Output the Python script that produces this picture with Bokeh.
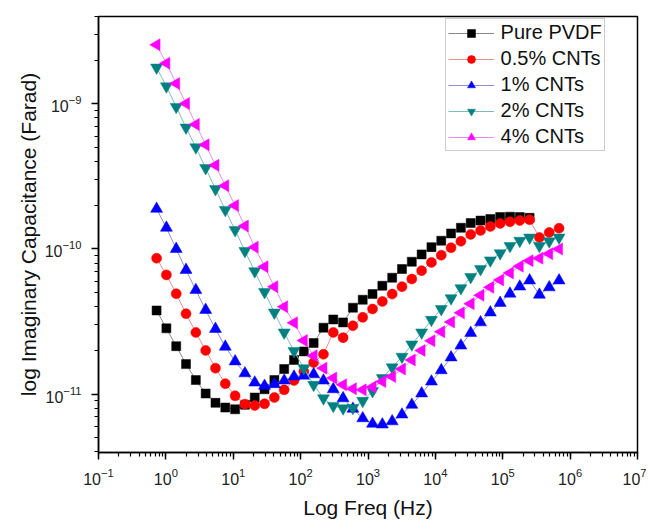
from bokeh.plotting import figure
from bokeh.models import Range1d, LogTicker, Legend, LegendItem
from bokeh.embed import file_html
from bokeh.resources import INLINE

# Frequencies (Hz)
freq_hz = [0.728, 1.018, 1.424, 1.991, 2.785, 3.895, 5.447, 7.618, 10.66, 14.90,
           20.84, 29.15, 40.77, 57.02, 79.76, 111.6, 156.1, 218.3, 305.2, 426.9,
           597.0, 835.0, 1168, 1633, 2285, 3195, 4469, 6251, 8741, 12230,
           17100, 23920, 33450, 46780, 65440, 91530, 128000, 179000, 250300, 350200,
           489800, 685000]

# Imaginary capacitance values in pF
pure_pvdf_pf = [37.7, 28.4, 21.4, 16.1, 12.5, 10.1, 8.71, 8.08, 7.86, 8.44,
                9.47, 10.8, 12.5, 14.9, 17.2, 19.7, 22.5, 28.7, 32.7, 31.2,
                39.4, 44.7, 48.9, 55.8, 63.4, 72.8, 81.7, 91.8, 103, 114,
                128, 140, 151, 157, 161, 166, 167, 166, 164]
cnt05_pf = [86.4, 66.3, 49.2, 35.8, 26.6, 20.0, 15.1, 11.8, 9.73, 8.53,
            8.34, 8.57, 9.47, 10.7, 12.4, 14.3, 16.5, 18.8, 26.6, 24.5,
            29.6, 33.8, 38.6, 43.5, 48.9, 55.0, 62.1, 70.9, 80.8, 90.6,
            102, 113, 126, 134, 143, 150, 154, 157, 159, 120,
            130, 139]
cnt1_pf = [189, 140, 100, 71.7, 52.1, 38.0, 28.1, 21.2, 16.8, 13.9,
           12.0, 11.4, 11.7, 12.4, 13.2, 13.4, 13.7, 12.4, 10.8, 9.36,
           7.92, 6.81, 6.24, 6.17, 6.49, 7.23, 8.44, 10.1, 12.2, 14.6,
           17.9, 21.6, 26.4, 31.2, 36.5, 42.5, 49.2, 55.1, 60.7, 48.4,
           54.4, 60.7]
cnt2_pf = [1780, 1321, 954, 687, 502, 361, 259, 186, 135, 96.9,
           70.3, 50.5, 36.5, 26.6, 19.8, 15.1, 11.6, 9.36, 8.30, 7.98,
           8.04, 8.99, 10.5, 12.9, 15.3, 18.1, 22.0, 26.6, 32.5, 38.6,
           45.8, 53.7, 64.1, 72.8, 83.5, 93.5, 105, 114, 120, 105,
           113, 120]
cnt4_pf = [2553, 1905, 1380, 1005, 722, 522, 377, 273, 199, 144,
           103, 75.5, 55.0, 40.0, 31.0, 23.4, 18.4, 15.1, 12.9, 11.6,
           10.9, 10.7, 11.2, 12.2, 13.2, 14.9, 17.2, 20.0, 23.3, 26.9,
           31.4, 36.3, 42.0, 48.0, 54.4, 61.2, 68.4, 76.1, 83.1, 86.4,
           92.8, 100]

series_labels = ["Pure PVDF", "0.5% CNTs", "1% CNTs", "2% CNTs", "4% CNTs"]
series_values = [pure_pvdf_pf, cnt05_pf, cnt1_pf, cnt2_pf, cnt4_pf]
marker_colors = ["#000000", "#FF0000", "#0000FF", "#008080", "#FF00FF"]
line_colors = ["#8a8a8a", "#eb8f8f", "#8f8fd6", "#80bcbc", "#e88ee8"]
markers = ["square", "circle", "triangle", "inverted_triangle", "triangle"]
angles = [0, 0, 0, 0, 1.5707963267948966]
sizes = [9, 10, 12, 12, 12]

FONT = "Liberation Sans"

p = figure(x_axis_type="log", y_axis_type="log",
           frame_width=539, frame_height=436,
           min_border_left=98, min_border_right=9, min_border_top=16, min_border_bottom=66,
           x_range=Range1d(1e-1, 1e7), y_range=Range1d(3.96e-12, 4.0e-9),
           output_backend="svg", toolbar_location=None)

p.xgrid.visible = False
p.ygrid.visible = False
p.outline_line_color = "#000000"
p.outline_line_width = 1.5
p.background_fill_color = "white"
p.border_fill_color = "white"

p.xaxis.ticker = LogTicker(num_minor_ticks=10, desired_num_ticks=9)
p.yaxis.ticker = LogTicker(num_minor_ticks=10)

for ax in (p.xaxis[0], p.yaxis[0]):
    ax.axis_line_width = 1.5
    ax.axis_line_color = "#000000"
    ax.major_tick_line_width = 1.5
    ax.major_tick_line_color = "#000000"
    ax.minor_tick_line_width = 1.2
    ax.minor_tick_line_color = "#000000"
    ax.major_tick_in = 0
    ax.major_tick_out = 7
    ax.minor_tick_in = 0
    ax.minor_tick_out = 4
    ax.major_label_text_font = FONT
    ax.major_label_text_font_size = "16px"
    ax.major_label_text_color = "#222222"
    ax.axis_label_text_font = FONT
    ax.axis_label_text_font_size = "21px"
    ax.axis_label_text_font_style = "normal"
    ax.axis_label_text_color = "#111111"

p.xaxis.axis_label = "Log Freq (Hz)"
p.yaxis.axis_label = "log Imaginary Capacitance (Farad)"
p.xaxis.major_label_standoff = 8
p.xaxis.axis_label_standoff = 8
p.yaxis.major_label_standoff = 10
p.yaxis.axis_label_standoff = 2

items = []
for lab, vals, mc, lc, mk, ang, sz in zip(series_labels, series_values, marker_colors,
                                         line_colors, markers, angles, sizes):
    xs = freq_hz[:len(vals)]
    ys = [v * 1e-12 for v in vals]
    lr = p.line(xs, ys, line_color=lc, line_width=1)
    sr = p.scatter(xs, ys, marker=mk, size=sz, angle=ang,
                   fill_color=mc, line_color=mc, line_width=0.5)
    items.append(LegendItem(label=lab, renderers=[lr, sr]))

legend = Legend(items=items, location=(346.6, 300.7))
legend.border_line_color = "#999999"
legend.border_line_width = 1
legend.background_fill_color = "white"
legend.background_fill_alpha = 1.0
legend.padding = 2
legend.spacing = 3
legend.margin = 0
legend.glyph_width = 46
legend.glyph_height = 20
legend.label_height = 20
legend.label_standoff = 7
legend.label_text_font = FONT
legend.label_text_font_size = "20px"
legend.label_text_color = "#111111"
p.add_layout(legend)

open("out.html", "w").write(file_html(p, INLINE))
